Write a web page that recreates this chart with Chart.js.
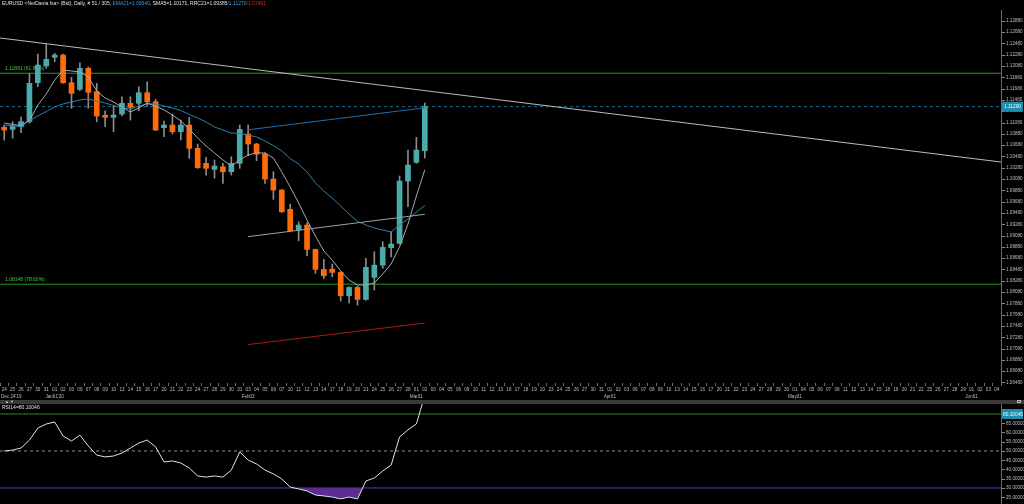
<!DOCTYPE html>
<html><head><meta charset="utf-8">
<script src="https://cdn.jsdelivr.net/npm/chart.js@4.4.1/dist/chart.umd.min.js"></script>
<style>
html,body{margin:0;padding:0;background:#000;width:1024px;height:504px;overflow:hidden;font-family:"Liberation Sans",Arial,sans-serif;}
#main{position:absolute;left:0;top:0;}
#rsi{position:absolute;left:0;top:404px;}
#title{position:absolute;left:2px;top:0;font-size:5px;line-height:7px;color:#e2e2e2;white-space:nowrap;}
#title .b{color:#3d9be0}#title .r{color:#e02424}
#bar{position:absolute;left:0;top:400px;width:1024px;height:4px;background:#3a3a3a;}
#arrows{position:absolute;left:5px;top:399px;font-size:4px;line-height:6px;color:#d0d0d0;letter-spacing:1px;}
#icon{position:absolute;left:1017px;top:400px;width:4px;height:3px;border:1px solid #bbb;box-sizing:border-box;}
#rsiTitle{position:absolute;left:2px;top:404px;font-size:5px;line-height:7px;color:#e2e2e2;white-space:nowrap;}
</style></head>
<body>
<canvas id="main" width="1024" height="400"></canvas>
<div id="bar"></div><div id="arrows">▲▼</div><div id="icon"></div>
<canvas id="rsi" width="1024" height="100"></canvas>
<div id="title">EURUSD &lt;NetDania fxa&gt; (Bid), Daily, # 51 / 305, <span class="b">EMA21=1.09540</span>, SMA5=1.10171, RRC21=1.09385<span class="b">/1.11270</span><span class="r">/1.07461</span></div>
<div id="rsiTitle">RSI14=80.10046</div>
<script>
const dayLabels = ["24","25","26","27","30","31",
"01","02","03","06","07","08","09","10","13","14","15","16","17","20","21","22","23","24","27","28","29","30","31",
"03","04","05","06","07","10","11","12","13","14","17","18","19","20","21","24","25","26","27","28",
"01","02","03","04","05","06","09","10","11","12","13","16","17","18","19","20","23","24","25","26","27","30","31",
"01","02","03","06","07","08","09","10","13","14","15","16","17","20","21","22","23","24","27","28","29","30",
"01","04","05","06","07","08","11","12","13","14","15","18","19","20","21","22","25","26","27","28","29",
"01","02","03","04"];
const monthNames = ["Dec 24'19","Jan01'20","Feb03","Mar01","Apr01","May01","Jun01"];
const monthSlots = [0,6,29,49,72,94,115];

const opens  = [1.10924,1.10888,1.10934,1.11023,1.11713,1.12009,1.12163,1.12203,1.11713,1.11596,1.11968,1.11554,1.11136,1.11101,1.11159,1.11349,1.11349,1.11536,1.11377,1.10917,1.10965,1.10846,1.10965,1.10552,1.10287,1.10180,1.10226,1.10138,1.10287,1.10805,1.10628,1.10451,1.10009,1.09814,1.09472,1.09106,1.09195,1.08764,1.08410,1.08416,1.08357,1.07943,1.08092,1.07879,1.08269,1.08486,1.08793,1.08871,1.09973,1.10304,1.10510];
const highs  = [1.10965,1.11023,1.11106,1.11880,1.12221,1.12398,1.12234,1.12221,1.11809,1.12067,1.11991,1.11703,1.11218,1.11301,1.11465,1.11465,1.11642,1.11731,1.11419,1.11035,1.11159,1.11053,1.11101,1.10628,1.10393,1.10345,1.10287,1.10403,1.10965,1.10965,1.10641,1.10474,1.10138,1.09826,1.09566,1.09253,1.09235,1.08770,1.08587,1.08504,1.08371,1.08102,1.08115,1.08605,1.08722,1.08899,1.09076,1.10062,1.10522,1.10747,1.11354];
const lows   = [1.10699,1.10734,1.10828,1.10995,1.11642,1.11968,1.12085,1.11703,1.11260,1.11572,1.11260,1.11023,1.10934,1.10846,1.11124,1.11053,1.11218,1.11301,1.10864,1.10757,1.10805,1.10699,1.10375,1.10198,1.10079,1.10026,1.09933,1.10079,1.10198,1.10416,1.10333,1.09933,1.09649,1.09416,1.09076,1.08917,1.08651,1.08340,1.08251,1.08280,1.07849,1.07819,1.07778,1.07867,1.08044,1.08428,1.08633,1.08858,1.09518,1.10287,1.10381];
const closes = [1.10876,1.10947,1.11023,1.11703,1.12026,1.12127,1.12203,1.11713,1.11526,1.11968,1.11543,1.11124,1.11101,1.11141,1.11349,1.11278,1.11536,1.11377,1.10876,1.10965,1.10846,1.10965,1.10552,1.10209,1.10198,1.10239,1.10138,1.10287,1.10888,1.10628,1.10451,1.10009,1.09814,1.09430,1.09094,1.09195,1.08764,1.08410,1.08297,1.08357,1.07943,1.08092,1.07879,1.08446,1.08486,1.08800,1.08858,1.09973,1.10257,1.10522,1.11290];

const sma5  = [1.11001,1.10974,1.10956,1.11045,1.11319,1.11514,1.11761,1.11938,1.11921,1.11903,1.11815,1.11567,1.11443,1.11372,1.11284,1.11195,1.11266,1.11354,1.11301,1.11231,1.11142,1.11036,1.10894,1.10735,1.10594,1.10470,1.10346,1.10240,1.10346,1.10434,1.10470,1.10470,1.10381,1.10134,1.09868,1.09585,1.09284,1.09001,1.08736,1.08576,1.08382,1.08223,1.08134,1.08134,1.08170,1.08329,1.08506,1.08807,1.09213,1.09709,1.10171];
const ema21 = [1.10965,1.10947,1.10939,1.11045,1.11124,1.11204,1.11284,1.11337,1.11372,1.11408,1.11425,1.11390,1.11354,1.11310,1.11275,1.11248,1.11301,1.11337,1.11337,1.11301,1.11266,1.11222,1.11151,1.11089,1.11018,1.10930,1.10877,1.10824,1.10815,1.10788,1.10753,1.10682,1.10602,1.10505,1.10372,1.10275,1.10134,1.09939,1.09797,1.09674,1.09532,1.09390,1.09258,1.09196,1.09143,1.09107,1.09072,1.09196,1.09302,1.09426,1.09540];

const rrcSlots = [29,50];
const rrcUpper = [1.10880,1.11270];
const rrcMid   = [1.08990,1.09385];
const rrcLower = [1.07080,1.07461];
const trendSlots  = [-0.5,118.5];
const trendValues = [1.12505,1.10310];
const fibValues = [1.11881,1.08148];
const fibLabels = ["1.11881 (61.80%)","1.08148 (78.60%)"];
const lastPrice = 1.11290;
const priceTicks = [1.06480,1.06680,1.06880,1.07080,1.07280,1.07480,1.07680,1.07880,1.08080,1.08280,1.08480,1.08680,1.08880,1.09080,1.09280,1.09480,1.09680,1.09880,1.10080,1.10280,1.10480,1.10680,1.10880,1.11080,1.11280,1.11480,1.11680,1.11880,1.12080,1.12280,1.12480,1.12680,1.12880];

const rsi14 = [50,50.5,51.6,55.9,62.4,64.6,65.7,58.1,55.4,58.6,52.7,47.8,46.8,47.3,48.9,51.6,54.3,55.9,52.2,44.1,44.6,43.5,40.8,36.5,35.9,36.5,35.9,39.7,49.5,45.1,43.0,39.7,37.6,34.9,30.5,29.5,28.4,26.2,25.7,25.1,24.1,25.1,24.1,33.8,35.4,39.2,42.4,57.6,61.4,64.6,80.10046];
const rsiLast = 80.10046;
const rsiTicks = [25,30,35,40,45,50,55,60,65];
const rsiLevels = [70,50,30];

const TEAL='#4aabab', ORANGE='#ff6a0a', AXIS='#bfbfbf';
const FONT='"Liberation Sans", Arial, sans-serif';
const XMIN=-0.5, XMAX=dayLabels.length-0.5;
const idx = closes.map((_,i)=>i);
const seg = (xs,ys)=>xs.map((x,i)=>({x,y:ys[i]}));
const full = v=>[{x:XMIN,y:v},{x:XMAX,y:v}];
const lineDs = (label,data,color,order,extra)=>Object.assign({type:'line',label,data,borderColor:color,borderWidth:1,pointRadius:0,tension:0,fill:false,order},extra||{});
const fitRight = s=>{s.width=23; s.paddingTop=0; s.paddingBottom=0;};

const mainOverlay = {
  id:'mainOverlay',
  beforeDatasetsDraw(chart){
    const {ctx, chartArea:a, scales:{y}} = chart;
    ctx.save();
    ctx.font = '5px '+FONT; ctx.textBaseline='middle';
    ctx.fillStyle='#3ec43e'; ctx.textAlign='left';
    fibValues.forEach((v,i)=>ctx.fillText(fibLabels[i], a.left+5, y.getPixelForValue(v)-4.5));
    ctx.restore();
  },
  afterDraw(chart){
    const {ctx, chartArea:a, scales:{x,y}} = chart;
    ctx.save();
    ctx.textBaseline='middle'; ctx.textAlign='left';
    ctx.strokeStyle='#8a8a8a'; ctx.lineWidth=1;
    priceTicks.forEach(v=>{const py=Math.round(y.getPixelForValue(v)+4)+0.5; ctx.beginPath(); ctx.moveTo(a.right+1,py); ctx.lineTo(a.right+4,py); ctx.stroke();});
    ctx.font = '4.6px '+FONT;
    ctx.fillStyle=AXIS;
    monthSlots.forEach((s,i)=>{const w=ctx.measureText(monthNames[i]).width; let px=x.getPixelForValue(s)-w/2; if(px<a.left+1) px=a.left+1; ctx.fillText(monthNames[i], px, a.bottom+14);});
    const py=y.getPixelForValue(lastPrice);
    ctx.fillStyle='#1f8dad'; ctx.fillRect(a.right+1, py-5, 21, 10);
    ctx.fillStyle='#eef8ff'; ctx.font='4.8px '+FONT;
    ctx.fillText(lastPrice.toFixed(5), a.right+3, py+0.5);
    ctx.restore();
  }
};

new Chart(document.getElementById('main'), {
  type:'line',
  data:{datasets:[
    lineDs('fib1', full(fibValues[0]), '#1c9a1c', 40),
    lineDs('fib2', full(fibValues[1]), '#1c9a1c', 40),
    lineDs('last', full(lastPrice), '#1f6f90', 39, {borderDash:[3,3]}),
    lineDs('trend', seg(trendSlots,trendValues), '#bdbdbd', 38),
    {type:'bar', label:'wicks', data: idx.map(i=>({x:i,y:[lows[i],highs[i]]})), backgroundColor:'#8c8c8c', barThickness:1, grouped:false, order:30},
    {type:'bar', label:'bodies', data: idx.map(i=>({x:i,y:[opens[i],closes[i]]})), backgroundColor: idx.map(i=>closes[i]>=opens[i]?TEAL:ORANGE), barThickness:5, minBarLength:1, grouped:false, order:29},
    lineDs('EMA21', seg(idx,ema21), '#2f7fab', 5),
    lineDs('SMA5', seg(idx,sma5), '#a8a8a8', 4),
    lineDs('rrcU', seg(rrcSlots,rrcUpper), '#1f6fb0', 3),
    lineDs('rrcM', seg(rrcSlots,rrcMid), '#a0a0a0', 3),
    lineDs('rrcL', seg(rrcSlots,rrcLower), '#a81c1c', 3)
  ]},
  options:{
    responsive:false, animation:false, events:[],
    layout:{padding:{top:10,bottom:8,left:0,right:0}, autoPadding:false},
    plugins:{legend:{display:false}, tooltip:{enabled:false}},
    scales:{
      x:{type:'linear', min:XMIN, max:XMAX, offset:false, position:'bottom',
        afterBuildTicks:s=>{s.ticks=dayLabels.map((_,i)=>({value:i}));},
        afterFit:s=>{s.height=9; s.paddingLeft=0; s.paddingRight=0;},
        border:{display:false},
        grid:{drawOnChartArea:false, drawTicks:true, tickLength:3, color:'#6a6a6a'},
        ticks:{autoSkip:false, maxRotation:0, minRotation:0, padding:1, color:AXIS, font:{size:4.6, family:FONT}, callback:v=>dayLabels[Math.round(v)]}},
      y:{type:'linear', position:'right', min:1.0640, max:1.1300,
        afterBuildTicks:s=>{s.ticks=priceTicks.map(v=>({value:v}));},
        afterFit:fitRight,
        border:{display:true, color:'#6a6a6a'},
        grid:{drawOnChartArea:false, drawTicks:false},
        ticks:{padding:5, labelOffset:4, color:AXIS, font:{size:4.6, family:FONT}, callback:v=>v.toFixed(5)}}
    }
  },
  plugins:[mainOverlay]
});

const rsiOverlay = {
  id:'rsiOverlay',
  afterDraw(chart){
    const {ctx, chartArea:a, scales:{y}} = chart;
    ctx.save();
    ctx.strokeStyle='#8a8a8a'; ctx.lineWidth=1;
    rsiTicks.forEach(v=>{const py=Math.round(y.getPixelForValue(v))+0.5; ctx.beginPath(); ctx.moveTo(a.right+1,py); ctx.lineTo(a.right+4,py); ctx.stroke();});
    let py=y.getPixelForValue(rsiLast);
    if(py<a.top+10) py=a.top+10;
    ctx.fillStyle='#1f8dad'; ctx.fillRect(a.right+1, py-5, 21, 10);
    ctx.fillStyle='#eef8ff'; ctx.font='4.8px '+FONT; ctx.textBaseline='middle'; ctx.textAlign='left';
    ctx.fillText(rsiLast.toFixed(5), a.right+2, py+0.5);
    ctx.restore();
  }
};

new Chart(document.getElementById('rsi'), {
  type:'line',
  data:{datasets:[
    lineDs('rsi70', full(rsiLevels[0]), '#3f8214', 10),
    lineDs('rsi50', full(rsiLevels[1]), '#8c8c8c', 10, {borderDash:[3,3]}),
    lineDs('rsi30', full(rsiLevels[2]), '#6a34c0', 10),
    lineDs('RSI14', seg(idx,rsi14), '#e2e2e2', 1, {fill:{target:{value:rsiLevels[2]}, above:'rgba(0,0,0,0)', below:'#5c2c90'}})
  ]},
  options:{
    responsive:false, animation:false, events:[],
    layout:{padding:0, autoPadding:false},
    plugins:{legend:{display:false}, tooltip:{enabled:false}},
    scales:{
      x:{type:'linear', min:XMIN, max:XMAX, display:false},
      y:{type:'linear', position:'right', min:21.35, max:75.4,
        afterBuildTicks:s=>{s.ticks=rsiTicks.map(v=>({value:v}));},
        afterFit:fitRight,
        border:{display:true, color:'#6a6a6a'},
        grid:{drawOnChartArea:false, drawTicks:false},
        ticks:{padding:5, color:AXIS, font:{size:4.6, family:FONT}, callback:v=>v.toFixed(5)}}
    }
  },
  plugins:[rsiOverlay]
});
</script>
</body></html>
